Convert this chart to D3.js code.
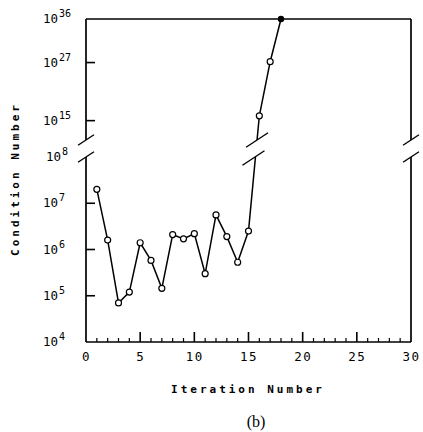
<!DOCTYPE html>
<html>
<head>
<meta charset="utf-8">
<script src="https://cdn.jsdelivr.net/npm/d3@7"></script>
<style>
  body { margin: 0; background: #fff; }
  text { fill: #000; }
</style>
</head>
<body>
<div id="chart"></div>
<script>
// Data: iteration vs condition number
const iterations = [1, 2, 3, 4, 5, 6, 7, 8, 9, 10, 11, 12, 13, 14, 15, 16, 17, 18];
const conditionNumbers = [2.0e7, 1.6e6, 7.0e4, 1.2e5, 1.4e6, 5.8e5, 1.45e5, 2.1e6, 1.7e6, 2.2e6,
  3.0e5, 5.6e6, 1.9e6, 5.3e5, 2.5e6, 1.0e16, 1.5e27, 1.0e36];
const xTicks = [0, 5, 10, 15, 20, 25, 30];
const lowerExponents = [4, 5, 6, 7, 8];
const upperExponents = [15, 27, 36];

const W = 423, H = 432;
const mLeft = 86, mRight = 411, mTop = 19, mBottom = 342;
const hiBottom = 140, loTop = 157;

const svg = d3.select("#chart").append("svg")
  .attr("width", W).attr("height", H);

const x = d3.scaleLinear().domain([0, 30]).range([mLeft, mRight]);
const yLo = d3.scaleLog().domain([1e4, 1e8]).range([mBottom, loTop]);
const yHi = d3.scaleLog().domain([1e11, 1e36]).range([hiBottom, mTop]);
const yv = v => v <= 1e9 ? yLo(v) : yHi(v);

// clip regions for the two panels
const defs = svg.append("defs");
defs.append("clipPath").attr("id", "clipLo").append("rect")
  .attr("x", mLeft - 5).attr("y", loTop).attr("width", mRight - mLeft + 10).attr("height", mBottom - loTop + 5);
defs.append("clipPath").attr("id", "clipHi").append("rect")
  .attr("x", mLeft - 5).attr("y", mTop - 5).attr("width", mRight - mLeft + 10).attr("height", hiBottom - mTop + 5);

// x tick labels from the axis
const xAxis = d3.axisBottom(x).tickValues(xTicks).tickSize(0).tickPadding(10);
const gx = svg.append("g").attr("transform", `translate(0,${mBottom})`).call(xAxis);
gx.select(".domain").remove();
gx.selectAll(".tick text")
  .attr("font-family", "DejaVu Sans Mono").attr("font-size", 12.5)
  .attr("letter-spacing", 1.5).attr("fill", "#000");

const frame = svg.append("g").attr("stroke", "#000").attr("stroke-width", 1.7).attr("fill", "none");

// inward tick marks
const tickG = svg.append("g").attr("stroke", "#000").attr("fill", "none");
tickG.selectAll("line.xmaj").data(xTicks.slice(1, -1)).join("line").attr("class", "xmaj")
  .attr("x1", d => x(d)).attr("x2", d => x(d))
  .attr("y1", mBottom).attr("y2", mBottom - 10).attr("stroke-width", 1.6);
tickG.selectAll("line.xmin").data(d3.range(1, 30).filter(d => d % 5)).join("line").attr("class", "xmin")
  .attr("x1", d => x(d)).attr("x2", d => x(d))
  .attr("y1", mBottom).attr("y2", mBottom - 4).attr("stroke-width", 1.2);
tickG.selectAll("line.ylo").data([5, 6, 7]).join("line").attr("class", "ylo")
  .attr("x1", mLeft).attr("x2", mLeft + 9)
  .attr("y1", d => yLo(Math.pow(10, d))).attr("y2", d => yLo(Math.pow(10, d))).attr("stroke-width", 1.6);
tickG.selectAll("line.yhi").data([15, 27]).join("line").attr("class", "yhi")
  .attr("x1", mLeft).attr("x2", mLeft + 9)
  .attr("y1", d => yHi(Math.pow(10, d))).attr("y2", d => yHi(Math.pow(10, d))).attr("stroke-width", 1.6);

// top and bottom border
frame.append("line").attr("x1", mLeft).attr("x2", mRight).attr("y1", mTop).attr("y2", mTop);
frame.append("line").attr("x1", mLeft).attr("x2", mRight).attr("y1", mBottom).attr("y2", mBottom);
// broken side borders
[mLeft, mRight].forEach(px => {
  frame.append("line").attr("x1", px).attr("x2", px).attr("y1", mTop).attr("y2", hiBottom);
  frame.append("line").attr("x1", px).attr("x2", px).attr("y1", loTop).attr("y2", mBottom);
});

// break slashes
function slash(cx, cy, w) {
  frame.append("line")
    .attr("x1", cx - w / 2).attr("y1", cy + w * 0.33)
    .attr("x2", cx + w / 2).attr("y2", cy - w * 0.33)
    .attr("stroke-width", 1.4);
}
[mLeft, mRight].forEach(px => { slash(px, hiBottom, 16); slash(px, loTop, 16); });

// y tick labels as 10^n
function powLabel(exp, yy, dx) {
  const t = svg.append("text")
    .attr("x", 43 + (dx || 0)).attr("y", yy + 4)
    .attr("font-family", "DejaVu Sans Mono").attr("font-size", 12.5);
  t.append("tspan").text("10");
  t.append("tspan").attr("dy", -6).attr("font-size", 10).attr("dx", 1).text(exp);
}
lowerExponents.forEach(e => powLabel(e, yLo(Math.pow(10, e)), e === 8 ? 3 : 0));
upperExponents.forEach(e => powLabel(e, yHi(Math.pow(10, e)), 0));

// data line, clipped to each panel
const pts = iterations.map((d, i) => [x(d), yv(conditionNumbers[i])]);
const line = d3.line();
["clipLo", "clipHi"].forEach(c => {
  svg.append("path").attr("d", line(pts))
    .attr("clip-path", `url(#${c})`)
    .attr("fill", "none").attr("stroke", "#000").attr("stroke-width", 1.5);
});

// break slashes on the data line where it crosses the gap
const [p15, p16] = [pts[14], pts[15]];
const atY = yy => p15[0] + (p16[0] - p15[0]) * (p15[1] - yy) / (p15[1] - p16[1]);
slash(atY(loTop) - 2, loTop + 1, 22);
slash(atY(hiBottom), hiBottom, 22);

// markers
svg.append("g").selectAll("circle").data(iterations).join("circle")
  .attr("cx", d => x(d))
  .attr("cy", (d, i) => yv(conditionNumbers[i]))
  .attr("r", (d, i) => i === iterations.length - 1 ? 2.6 : 3)
  .attr("fill", (d, i) => i === iterations.length - 1 ? "#000" : "#fff")
  .attr("stroke", "#000").attr("stroke-width", 1.2);

// axis titles
svg.append("text")
  .attr("x", 248).attr("y", 393).attr("text-anchor", "middle")
  .attr("font-family", "DejaVu Sans Mono").attr("font-weight", "bold")
  .attr("font-size", 11).attr("letter-spacing", 3)
  .text("Iteration Number");
svg.append("text")
  .attr("transform", "translate(19,179) rotate(-90)").attr("text-anchor", "middle")
  .attr("font-family", "DejaVu Sans Mono").attr("font-weight", "bold")
  .attr("font-size", 11).attr("letter-spacing", 3)
  .text("Condition Number");
svg.append("text")
  .attr("x", 256).attr("y", 427).attr("text-anchor", "middle")
  .attr("font-family", "Liberation Serif").attr("font-size", 16)
  .text("(b)");
</script>
</body>
</html>
